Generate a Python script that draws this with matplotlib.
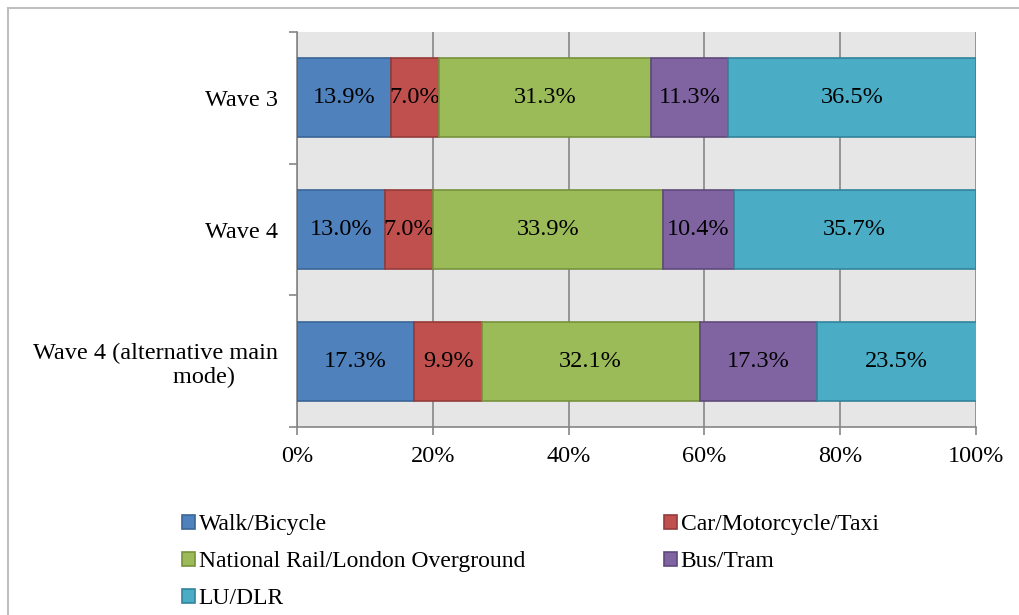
import numpy as np
import matplotlib.pyplot as plt
from matplotlib.patches import Patch
from matplotlib.lines import Line2D

plt.rcParams['font.family'] = ['Liberation Serif', 'DejaVu Serif']

categories = ["Wave 3", "Wave 4", "Wave 4 (alternative main\nmode)       "]
walk = [13.9, 13.0, 17.3]
car = [7.0, 7.0, 9.9]
rail = [31.3, 33.9, 32.1]
bus = [11.3, 10.4, 17.3]
lu = [36.5, 35.7, 23.5]

series = [walk, car, rail, bus, lu]
names = ["Walk/Bicycle", "Car/Motorcycle/Taxi", "National Rail/London Overground",
         "Bus/Tram", "LU/DLR"]
colors = ["#4F81BD", "#C0504D", "#9BBB59", "#8064A2", "#4BACC6"]
edges = ["#3A6596", "#943B39", "#76923C", "#5F4A7B", "#31849B"]

fig = plt.figure(figsize=(10.19, 6.15), dpi=100)
ax = fig.add_axes([297/1019, 1-427/615, 679/1019, 395/615])
ax.set_facecolor("#E6E6E6")

y = np.arange(len(categories))
left = np.zeros(len(categories))
for vals, c, ec, nm in zip(series, colors, edges, names):
    vals = np.array(vals)
    bars = ax.barh(y, vals, left=left, height=0.6, color=c, edgecolor=ec,
                   linewidth=1.2, zorder=3, label=nm)
    ax.bar_label(bars, labels=["%.1f%%" % v for v in vals], label_type='center',
                 fontsize=17.5, color='black')
    left += vals

ax.set_xlim(0, 100)
ax.set_ylim(-0.5, 2.5)
ax.invert_yaxis()
ax.set_xticks(np.arange(0, 101, 20))
ax.set_xticklabels(["%d%%" % v for v in range(0, 101, 20)], fontsize=17.5)
ax.xaxis.grid(True, color="#868686", linewidth=1.2, zorder=1)
ax.set_axisbelow(True)

ax.set_yticks(y)
ax.set_yticklabels(categories, fontsize=17.5, multialignment='right')
ax.set_yticks([-0.5, 0.5, 1.5, 2.5], minor=True)
ax.tick_params(axis='y', which='major', length=0, pad=14)
ax.tick_params(axis='y', which='minor', length=6, width=1.2, color="#868686")
ax.tick_params(axis='x', length=6, width=1.2, color="#868686", pad=8)

for s in ['top', 'right']:
    ax.spines[s].set_visible(False)
for s in ['left', 'bottom']:
    ax.spines[s].set_color("#868686")
    ax.spines[s].set_linewidth(1.2)

handles = [Patch(facecolor=c, edgecolor=ec, linewidth=1.2) for c, ec in zip(colors, edges)]
order = [0, 2, 4, 1, 3]
fig.legend([handles[i] for i in order], [names[i] for i in order],
           loc='upper left', bbox_to_anchor=(182/1019, 1-514/615), ncol=2,
           frameon=False, fontsize=17, handlelength=0.55, handleheight=0.55,
           handletextpad=0.15, columnspacing=5.9, labelspacing=0.68, borderpad=0,
           borderaxespad=0)

# chart frame
fig.add_artist(Line2D([8/1019, 1], [1-8/615, 1-8/615], color="#BFBFBF", linewidth=1.5,
                      transform=fig.transFigure))
fig.add_artist(Line2D([8/1019, 8/1019], [0, 1-8/615], color="#BFBFBF", linewidth=1.5,
                      transform=fig.transFigure))

fig.savefig("out.png", dpi=100)
